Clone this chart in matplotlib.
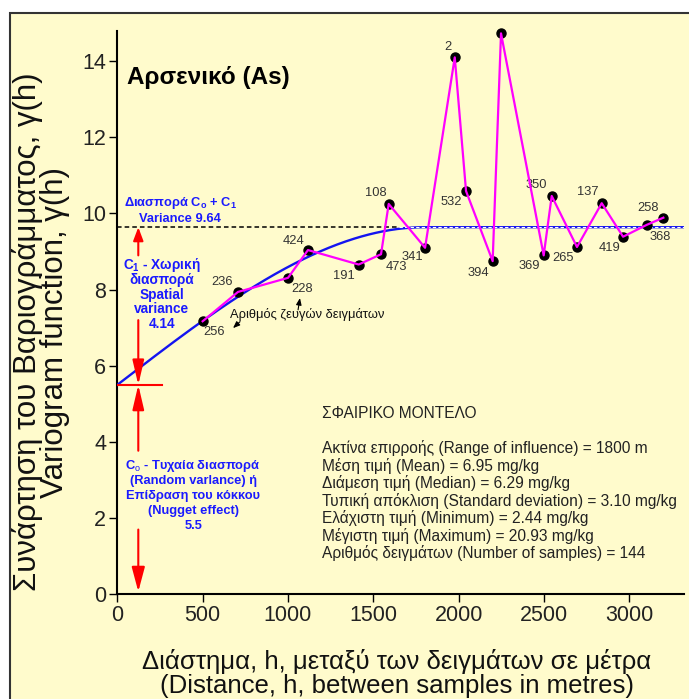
import numpy as np
import matplotlib.pyplot as plt
from matplotlib.patches import Rectangle

plt.rcParams['font.family'] = ['Liberation Sans', 'DejaVu Sans']
plt.rcParams['mathtext.fontset'] = 'custom'
plt.rcParams['mathtext.rm'] = 'Liberation Sans'
plt.rcParams['mathtext.bf'] = 'Liberation Sans:bold'

# experimental variogram: lag distance (m), semivariance, number of pairs
lag = [500, 707, 1000, 1117, 1414, 1545, 1590, 1803, 1977, 2043, 2199,
       2248, 2498, 2545, 2693, 2838, 2963, 3101, 3199]
gamma = [7.17, 7.94, 8.31, 9.04, 8.66, 8.93, 10.25, 9.10, 14.10, 10.59, 8.75,
         14.73, 8.90, 10.46, 9.12, 10.27, 9.39, 9.70, 9.89]
pairs = ['256', '236', '228', '424', '191', '473', '108', '341', '2', '532', '394',
         '', '369', '350', '265', '137', '419', '368', '258']

# spherical model
nugget = 5.5
sill = 9.64
rng = 1800

stats_lines = [
    'Ακτίνα επιρροής (Range of influence) = 1800 m',
    'Μέση τιμή (Mean) = 6.95 mg/kg',
    'Διάμεση τιμή (Median) = 6.29 mg/kg',
    'Τυπική απόκλιση (Standard deviation) = 3.10 mg/kg',
    'Ελάχιστη τιμή (Minimum) = 2.44 mg/kg',
    'Μέγιστη τιμή (Maximum) = 20.93 mg/kg',
    'Αριθμός δειγμάτων (Number of samples) = 144',
]

# label offsets in pixels from each point
offs = [(11, -11), (-16, 10), (14, -11), (-14, 9), (-15, -11), (15, -13), (-13, 11),
        (-13, -9), (-7, 10), (-15, -11), (-14, -12), (0, 0), (-14, -11), (-15, 11),
        (-14, -11), (-14, 11), (-14, -11), (14, -12), (-15, 10)]

def spherical(h):
    h = np.asarray(h, dtype=float)
    r = np.minimum(h / rng, 1.0)
    return nugget + (sill - nugget) * (1.5 * r - 0.5 * r ** 3)

fig = plt.figure(figsize=(6.89, 6.99), dpi=100)
fig.patch.set_facecolor('white')
panel = Rectangle((10 / 689, -0.01), 1, 1.01 - 13 / 699, transform=fig.transFigure,
                  facecolor='#FFFBCC', edgecolor='#333333', lw=1.5, zorder=-10)
fig.add_artist(panel)

ax = fig.add_axes([117.3 / 689, 104.7 / 699, 566.7 / 689, 563.6 / 699])
ax.set_facecolor('none')
ax.set_xlim(0, 3320)
ax.set_ylim(0, 14.8)
for s in ['top', 'right']:
    ax.spines[s].set_visible(False)
for s in ['left', 'bottom']:
    ax.spines[s].set_linewidth(1.5)
ax.set_xticks(range(0, 3001, 500))
ax.set_yticks(range(0, 15, 2))
ax.tick_params(labelsize=15.5, length=6, width=1, colors='black', labelcolor='#222222', pad=2)

hh = np.linspace(0, 3320, 400)
ax.plot([0, 1650], [sill, sill], color='black', lw=1.1, ls=(0, (3, 2)), zorder=2)
ax.plot(hh, spherical(hh), color='#1414F0', lw=1.7, zorder=3)
ax.plot([1650, 3320], [sill, sill], color='white', lw=0.8, ls=(0, (3, 2)), zorder=4)

ax.plot(lag, gamma, color='black', marker='o', ms=6.5, ls='none', zorder=5, clip_on=False)
ax.plot(lag, gamma, color='#FF00FF', lw=1.6, zorder=6, clip_on=False)
for x, y, p, o in zip(lag, gamma, pairs, offs):
    if p:
        ax.annotate(p, (x, y), xytext=o, textcoords='offset pixels', ha='center',
                    va='center', fontsize=9.3, color='#333333')

ax.text(57, 13.56, 'Αρσενικό (As)', fontsize=17.5, fontweight='bold', va='center')

# red arrows for nugget and spatial variance
xa = 123
red = '#FF0000'
ax.plot([0, 260], [nugget, nugget], color=red, lw=1.5, zorder=4)
def red_arrow(y0, y1, hl, hw):
    ax.annotate('', xy=(xa, y1), xytext=(xa, y0),
                arrowprops=dict(arrowstyle='-|>,head_length=%g,head_width=%g' % (hl, hw),
                                color=red, lw=1.5, shrinkA=0, shrinkB=0, mutation_scale=10))
red_arrow(8.9, sill, 0.8, 0.3)
red_arrow(7.2, nugget, 1.5, 0.35)
red_arrow(3.77, nugget, 1.5, 0.35)
red_arrow(1.7, 0.07, 1.5, 0.4)

blue = '#1A1AFF'
ax.text(368, 10.28, r'Διασπορά C$_\mathbf{o}$ + C$_\mathbf{1}$', color=blue, fontsize=9.3,
        fontweight='bold', ha='center', va='center')
ax.text(368, 9.86, 'Variance 9.64', color=blue, fontsize=9.3, fontweight='bold',
        ha='center', va='center')
c1_text = [r'C$_\mathbf{1}$ - Χωρική', 'διασπορά', 'Spatial', 'variance', '4.14']
for i, t in enumerate(c1_text):
    ax.annotate(t, (260, 8.64), xytext=(0, -14.7 * i), textcoords='offset pixels',
                color=blue, fontsize=9.8, fontweight='bold', ha='center', va='center')
c0_text = [r'C$_\mathrm{o}$ - Τυχαία διασπορά', '(Random varlance) ή',
           'Επίδραση του κόκκου', '(Nugget effect)', '5.5']
for i, t in enumerate(c0_text):
    ax.annotate(t, (445, 3.36), xytext=(0, -15 * i), textcoords='offset pixels',
                color=blue, fontsize=9.3, fontweight='bold', ha='center', va='center')

# number of pairs note
ax.text(660, 7.34, 'Αριθμός ζευγών δειγμάτων', fontsize=9.3, va='center', color='#111111')
ax.annotate('', xy=(678, 6.99), xytext=(719, 7.16),
            arrowprops=dict(arrowstyle='-|>,head_length=0.5,head_width=0.2', color='black',
                            lw=0.8, shrinkA=0, shrinkB=0, mutation_scale=8))
ax.annotate('', xy=(1070, 7.78), xytext=(1059, 7.47),
            arrowprops=dict(arrowstyle='-|>,head_length=0.5,head_width=0.2', color='black',
                            lw=0.8, shrinkA=0, shrinkB=0, mutation_scale=8))

# model summary
ax.text(1197, 4.74, 'ΣΦΑΙΡΙΚΟ ΜΟΝΤΕΛΟ', fontsize=11.2, va='center', color='#222222')
for i, t in enumerate(stats_lines):
    ax.annotate(t, (1197, 3.84), xytext=(0, -17.5 * i), textcoords='offset pixels',
                fontsize=11.2, va='center', color='#222222')

fig.text(41 / 689, 1 - 332 / 699, 'Συνάρτηση του Βαριογράμματος, γ(h)\nVariogram function, γ(h)',
         rotation=90, fontsize=22.5, ha='center', va='center', multialignment='center',
         color='#111111', linespacing=0.85)
fig.text(397 / 689, 1 - 673 / 699,
         'Διάστημα, h, μεταξύ των δειγμάτων σε μέτρα\n(Distance, h, between samples in metres)',
         fontsize=18.5, ha='center', va='center', multialignment='center', color='#111111',
         linespacing=1.0)

fig.savefig('out.png', dpi=100, facecolor=fig.get_facecolor())
